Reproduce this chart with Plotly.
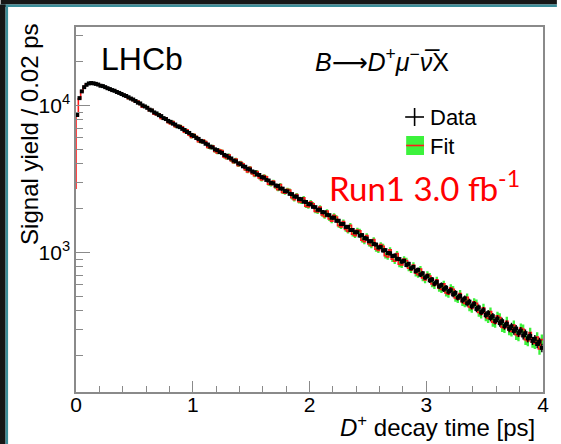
import numpy as np
import plotly.graph_objects as go

# ---------------- data ----------------
bin_width = 0.02  # ps
data_counts = [
    8600, 11200, 12450, 13300, 13800, 14100, 14180, 14120, 14000, 13850,
    13600, 13520, 13300, 13080, 12900, 12700, 12560, 12330, 12150, 11950,
    11730, 11580, 11350, 11120, 10950, 10700, 10430, 10300, 9990, 9830,
    9620, 9350, 9230, 8950, 8810, 8580, 8450, 8190, 8070, 7840,
    7720, 7510, 7400, 7200, 7110, 6920, 6800, 6590, 6490, 6290,
    6190, 6000, 5910, 5730, 5650, 5480, 5410, 5240, 5170, 5020,
    4960, 4810, 4750, 4600, 4540, 4410, 4350, 4210, 4160, 4030,
    3980, 3850, 3820, 3700, 3660, 3550, 3510, 3390, 3360, 3250,
    3220, 3110, 3080, 2970, 2950, 2850, 2830, 2720, 2710, 2610,
    2600, 2500, 2490, 2400, 2390, 2310, 2300, 2210, 2200, 2130,
    2120, 2040, 2030, 1950, 1950, 1880, 1870, 1800, 1790, 1720,
    1720, 1640, 1640, 1560, 1560, 1490, 1490, 1420, 1420, 1370,
    1370, 1300, 1310, 1250, 1240, 1190, 1190, 1140, 1130, 1080,
    1085, 1030, 1035, 990, 985, 945, 950, 905, 900, 865,
    875, 820, 835, 780, 795, 745, 760, 705, 720, 675,
    690, 645, 655, 612, 628, 588, 600, 560, 575, 540,
    552, 518, 530, 492, 505, 472, 486, 450, 462, 430,
    445, 412, 422, 392, 404, 375, 386, 358, 368, 342,
    354, 330, 340, 315, 326, 303, 314, 292, 303, 282,
    293, 272, 282, 260, 270, 250, 258, 238, 247, 224,
]
fit_counts = [
    8500, 11100, 12500, 13250, 13850, 14050, 14200, 14100, 13950, 13900,
    13650, 13450, 13350, 13050, 12950, 12650, 12600, 12300, 12200, 11900,
    11850, 11400, 11080, 11210, 10790, 10490, 10680, 10140, 9720, 9910,
    9790, 9200, 9370, 8720, 8620, 8770, 8160, 8060, 8210, 7630,
    7470, 7770, 7160, 7090, 7300, 7150, 6570, 6820, 6270, 6060,
    6360, 6150, 5660, 5590, 5800, 5670, 5170, 5110, 5310, 4850,
    4740, 4980, 4920, 4440, 4350, 4610, 4200, 4070, 4310, 3890,
    4120, 4000, 3650, 3530, 3790, 3430, 3320, 3550, 3210, 3110,
    3330, 3260, 2910, 2880, 3050, 2760, 2670, 2890, 2560, 2530,
    2680, 2650, 2350, 2280, 2470, 2210, 2190, 2350, 2060, 2040,
    2210, 2140, 1900, 1880, 2030, 1800, 1750, 1910, 1690, 1630,
    1790, 1740, 1520, 1490, 1620, 1430, 1390, 1530, 1330, 1300,
    1420, 1400, 1210, 1180, 1300, 1140, 1110, 1220, 1050, 1030,
    1130, 1100, 950, 930, 1040, 900, 870, 980, 830, 820,
    900, 880, 780, 760, 820, 720, 705, 770, 670, 650,
    710, 690, 610, 595, 650, 570, 560, 610, 530, 520,
    575, 560, 490, 480, 525, 460, 450, 495, 425, 415,
    460, 450, 390, 380, 420, 365, 355, 395, 335, 330,
    370, 360, 310, 305, 340, 295, 290, 320, 275, 270,
    305, 300, 255, 250, 285, 245, 240, 265, 220, 255,
]
fit_left_edge_value = 2700  # fit curve value drawn at t = 0

x_tick_vals = [0, 1, 2, 3, 4]
y_tick_vals = [1000, 10000]
y_tick_text = ["10<sup>3</sup>", "10<sup>4</sup>"]
y_minor_vals = [200, 300, 400, 500, 600, 700, 800, 900,
                2000, 3000, 4000, 5000, 6000, 7000, 8000, 9000, 20000, 30000]

# ---------------- derived ----------------
n = len(data_counts)
centers = bin_width * (np.arange(n) + 0.5)
edges = bin_width * np.arange(n + 1)
data_err = np.sqrt(np.array(data_counts, dtype=float))
fit_arr = np.array(fit_counts, dtype=float)
fit_err = 1.3 * np.sqrt(fit_arr)
fit_hi = np.append(fit_arr + fit_err, fit_arr[-1] + fit_err[-1])
fit_lo = np.append(fit_arr - fit_err, fit_arr[-1] - fit_err[-1])
fit_step = np.append(fit_arr, fit_arr[-1])

W, H = 561, 444
L, R, T, B = 76, 14, 27, 52
PW, PH = W - L - R, H - T - B


def px(xp):
    return (xp - L) / PW


def py(yp):
    return (H - B - yp) / PH


FONT = "Liberation Sans, Arial, Helvetica, sans-serif"
GREEN = "#3cf23c"
RED = "#ff1a1a"
AXC = "#8a8a8a"

fig = go.Figure()
fig.add_trace(go.Scatter(x=edges, y=fit_lo, mode="lines", line=dict(width=0, shape="hv"),
                         hoverinfo="skip", showlegend=False))
fig.add_trace(go.Scatter(x=edges, y=fit_hi, mode="lines", line=dict(width=0, shape="hv"),
                         fill="tonexty", fillcolor=GREEN, hoverinfo="skip", showlegend=False))
fig.add_trace(go.Scatter(x=np.concatenate([[0.0], edges]),
                         y=np.concatenate([[fit_left_edge_value], fit_step]),
                         mode="lines", line=dict(color=RED, width=1.6, shape="hv"),
                         showlegend=False))
fig.add_trace(go.Scatter(x=centers, y=data_counts, mode="markers",
                         marker=dict(color="black", size=4, symbol="square"),
                         error_y=dict(type="data", array=data_err, color="black", thickness=1.4, width=0),
                         error_x=dict(type="constant", value=bin_width / 2, color="black", thickness=1.4, width=0),
                         showlegend=False))

shapes = []
# dark frame of the slide (top and left)
shapes.append(dict(type="rect", xref="paper", yref="paper", x0=px(0), x1=px(W), y0=py(4.5), y1=py(-2),
                   fillcolor="#161616", line=dict(width=0), layer="above"))
shapes.append(dict(type="rect", xref="paper", yref="paper", x0=px(0), x1=px(W), y0=py(7), y1=py(4.5),
                   fillcolor="#3b8d99", line=dict(width=0), layer="above"))
shapes.append(dict(type="rect", xref="paper", yref="paper", x0=px(-2), x1=px(5), y0=py(H + 2), y1=py(4.5),
                   fillcolor="#161616", line=dict(width=0), layer="above"))
shapes.append(dict(type="rect", xref="paper", yref="paper", x0=px(5), x1=px(7.5), y0=py(H + 2), y1=py(7),
                   fillcolor="#3b8d99", line=dict(width=0), layer="above"))
# legend: data cross
shapes.append(dict(type="line", xref="paper", yref="paper", x0=px(408), x1=px(427), y0=py(117), y1=py(117),
                   line=dict(color="black", width=1.6)))
shapes.append(dict(type="line", xref="paper", yref="paper", x0=px(417.5), x1=px(417.5), y0=py(108), y1=py(126),
                   line=dict(color="black", width=1.6)))
# legend: fit box
shapes.append(dict(type="rect", xref="paper", yref="paper", x0=px(409), x1=px(427), y0=py(155), y1=py(136),
                   fillcolor=GREEN, line=dict(width=0)))
shapes.append(dict(type="line", xref="paper", yref="paper", x0=px(409), x1=px(427), y0=py(145.5), y1=py(145.5),
                   line=dict(color=RED, width=1.6)))

annotations = [
    dict(text="LHCb", x=px(99), y=py(59), xanchor="left", yanchor="middle",
         font=dict(family=FONT, size=32, color="black")),
    dict(text="<i>B</i><span style=\"font-family:DejaVu Sans\">⟶</span><i>D</i><sup>+</sup>"
              "<i>μ</i><sup>−</sup><i>\u03bd\u0305</i>X",
         x=px(315), y=py(61), xanchor="left", yanchor="middle",
         font=dict(family=FONT, size=25, color="black")),
    dict(text="Data", x=px(431), y=py(117), xanchor="left", yanchor="middle",
         font=dict(family=FONT, size=22, color="black")),
    dict(text="Fit", x=px(431), y=py(146), xanchor="left", yanchor="middle",
         font=dict(family=FONT, size=22, color="black")),
    dict(text="Run1 3.0 fb<sup>-1</sup>", x=px(329), y=py(186), xanchor="left", yanchor="middle",
         font=dict(family="Lato, Carlito, sans-serif", size=33, color="#ff0000")),
    dict(text="Signal yield / 0.02 ps", x=px(29), y=py(22), xanchor="center", yanchor="top",
         textangle=-90, font=dict(family=FONT, size=24, color="black")),
    dict(text="<i>D</i><sup>+</sup> decay time [ps]", x=px(541), y=py(426), xanchor="right", yanchor="middle",
         font=dict(family=FONT, size=24, color="black")),
]
for a in annotations:
    a.update(xref="paper", yref="paper", showarrow=False)

fig.update_layout(
    width=W, height=H,
    margin=dict(l=L, r=R, t=T, b=B),
    paper_bgcolor="white", plot_bgcolor="white",
    showlegend=False,
    shapes=shapes,
    annotations=annotations,
    xaxis=dict(range=[0, 4], showgrid=False, zeroline=False, showline=True, linecolor=AXC, linewidth=1.5,
               mirror=True, ticks="inside", ticklen=11, tickcolor=AXC, tickwidth=1.2,
               tickmode="array", tickvals=x_tick_vals, ticktext=[str(v) for v in x_tick_vals],
               tickfont=dict(family=FONT, size=21, color="black"), ticklabelstandoff=-7,
               minor=dict(dtick=0.2, ticks="inside", ticklen=6, tickcolor=AXC, tickwidth=1.2, showgrid=False)),
    yaxis=dict(type="log", range=[2.05, 4.533], showgrid=False, zeroline=False, showline=True, linecolor=AXC,
               linewidth=1.5, mirror=True, ticks="inside", ticklen=14, tickcolor=AXC, tickwidth=1.2,
               tickmode="array", tickvals=y_tick_vals, ticktext=y_tick_text, ticklabelstandoff=0,
               tickfont=dict(family=FONT, size=21, color="black"),
               minor=dict(tickmode="array", tickvals=y_minor_vals, ticks="inside", ticklen=7,
                          tickcolor=AXC, tickwidth=1.2, showgrid=False)),
)

fig.write_html("out.html")
